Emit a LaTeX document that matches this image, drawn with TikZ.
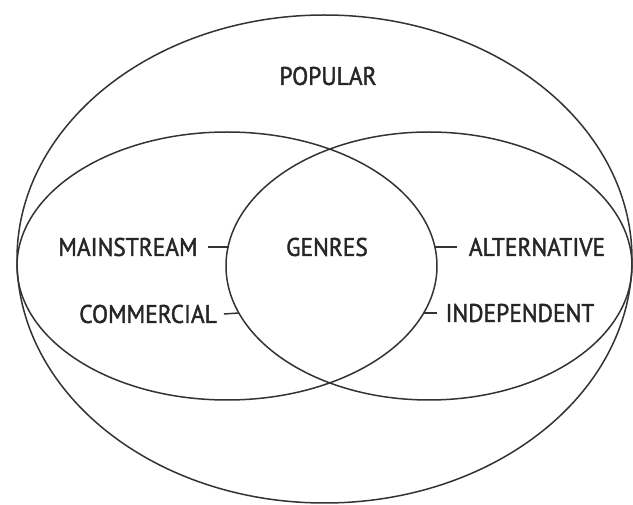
\documentclass[tikz,border=0pt]{standalone}
\usepackage{fontspec}
\setmainfont{PT Sans}[FakeStretch=0.92,FakeBold=1.6]
\usetikzlibrary{shapes.geometric}
\begin{document}
\begin{tikzpicture}[x=1pt,y=-1pt,
  ring/.style={draw=black!80,line width=1.5pt},
  lbl/.style={inner sep=0pt,text=black!85,font=\fontsize{25.5}{30}\selectfont},
  tick/.style={draw=black!80,line width=1.5pt}]
\useasboundingbox[fill=white] (0,0) rectangle (633,505);
% ellipses
\draw[ring] (324.5,259) ellipse [x radius=307.5,y radius=244];
\draw[ring] (227,266) ellipse [x radius=210,y radius=134];
\draw[ring] (429,266) ellipse [x radius=203,y radius=134];
% labels
\node[lbl] (pop) at (328,76) {POPULAR};
\node[lbl] (gen) at (327,247) {GENRES};
\node[lbl] (ms) at (128,247) {MAINSTREAM};
\node[lbl] (com) at (148,314) {COMMERCIAL};
\node[lbl] (alt) at (537,247) {ALTERNATIVE};
\node[lbl] (ind) at (520,313) {INDEPENDENT};
% tick ends on the lens
\coordinate (msT) at (229,247);
\coordinate (comT) at (239,313);
\coordinate (altT) at (435,247);
\coordinate (indT) at (424,313);
\draw[tick] ([xshift=10pt]ms.east) -- (msT);
\draw[tick] ([xshift=7pt]com.east) -- (comT);
\draw[tick] ([xshift=-12pt]alt.west) -- (altT);
\draw[tick] ([xshift=-8pt]ind.west) -- (indT);
\end{tikzpicture}
\end{document}
